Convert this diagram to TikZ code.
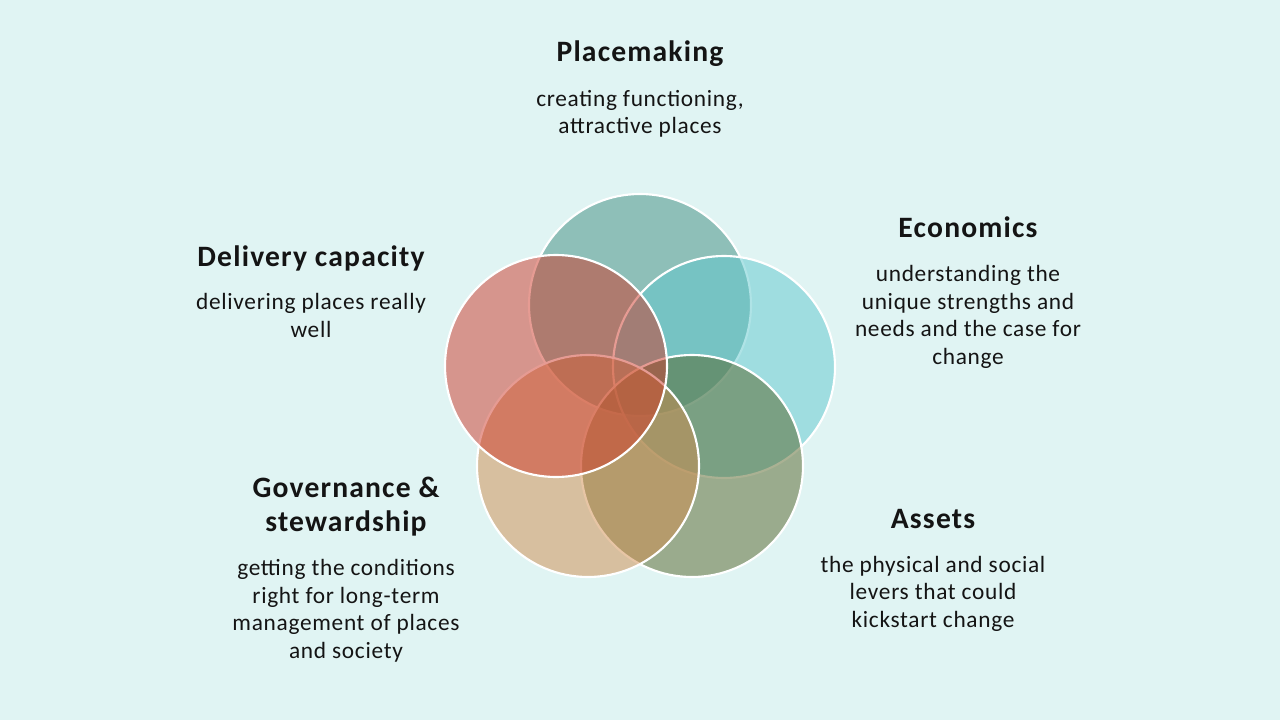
\documentclass[tikz,border=0pt]{standalone}
\usepackage{fontspec}
\setmainfont{Carlito}
\newfontfamily\titlefont[LetterSpace=4]{Carlito}
\newfontfamily\bodyfont[LetterSpace=3]{Carlito}
\definecolor{bg}{RGB}{224,244,243}
\definecolor{cplace}{RGB}{62,140,126}
\definecolor{cecon}{RGB}{96,200,206}
\definecolor{cassets}{RGB}{86,100,40}
\definecolor{cgov}{RGB}{208,140,76}
\definecolor{cdeliv}{RGB}{206,56,40}
\definecolor{ink}{RGB}{20,20,20}
\tikzset{
  venn/.style={fill=#1, fill opacity=0.5, draw=white, draw opacity=1, line width=1.6pt},
  ttl/.style={font=\titlefont\bfseries\fontsize{22.2pt}{25.5pt}\selectfont, text=ink, align=center, inner sep=0pt, anchor=base},
  bdy/.style={font=\bodyfont\fontsize{17.5pt}{20.6pt}\selectfont, text=ink, align=center, inner sep=0pt, anchor=base},
}
\begin{document}
\begin{tikzpicture}[x=0.75pt,y=-0.75pt]
\fill[bg] (0,0) rectangle (1280,720);
\useasboundingbox (0,0) rectangle (1280,720);
% circles, bottom to top
\path[venn=cplace] (640,305) circle[radius=111];
\path[venn=cecon] (724,367) circle[radius=111];
\path[venn=cassets] (692,466) circle[radius=111];
\path[venn=cgov] (588,466) circle[radius=111];
\path[venn=cdeliv] (556,366) circle[radius=111];
% texts (anchor base = baseline of the last line)
\node[ttl] (tpm) at (640,62) {Placemaking};
\node[bdy] (bpm) at (640,134) {creating functioning,\\attractive places};
\node[ttl] (tec) at (968,238) {Economics};
\node[bdy] (bec) at (968,364) {understanding the\\unique strengths and\\needs and the case for\\change};
\node[ttl] (tdc) at (311,266) {Delivery capacity};
\node[bdy] (bdc) at (311,337) {delivering places really\\well};
\node[ttl] (tgv) at (346,531) {Governance \&\\stewardship};
\node[bdy] (bgv) at (346,658) {getting the conditions\\right for long-term\\management of places\\and society};
\node[ttl] (tas) at (933,528) {Assets};
\node[bdy] (bas) at (933,627) {the physical and social\\levers that could\\kickstart change};
\end{tikzpicture}
\end{document}
